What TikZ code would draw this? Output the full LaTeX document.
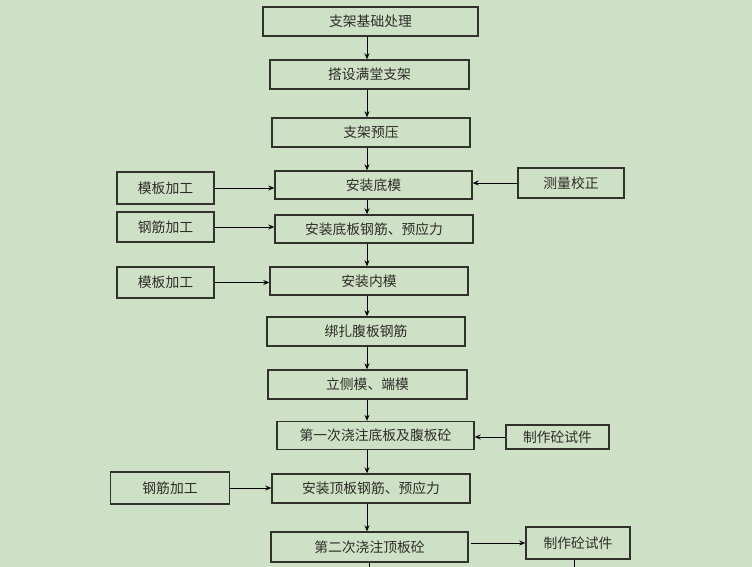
\documentclass[tikz,border=0pt]{standalone}
\usepackage{fontspec}
\newfontfamily\cjk{Noto Sans CJK SC}
\usetikzlibrary{arrows.meta}
\definecolor{bg}{RGB}{206,224,197}
\definecolor{bd}{RGB}{50,50,45}
\definecolor{tx}{RGB}{45,45,40}
\begin{document}
\begin{tikzpicture}[x=1pt,y=-1pt,
  box/.style={draw=bd,line width=1.4pt,text=tx,inner sep=0pt,
    font=\cjk\fontsize{13.8}{16}\selectfont},
  arr/.style={draw=black,line width=1pt,-{Stealth[length=6pt,width=5pt]}},
  ln/.style={draw=black,line width=1pt}]
\fill[bg] (0,0) rectangle (752,567);
\useasboundingbox (0,0) rectangle (752,567);
\node[box,minimum width=215pt,minimum height=29pt] (b1) at (370.5,21.5) {支架基础处理};
\node[box,minimum width=199pt,minimum height=29pt] (b2) at (369.5,74.5) {搭设满堂支架};
\node[box,minimum width=198pt,minimum height=29pt] (b3) at (371,132.5) {支架预压};
\node[box,minimum width=197pt,minimum height=28pt] (b4) at (373.5,185) {安装底模};
\node[box,minimum width=198pt,minimum height=28pt] (b5) at (374,229) {安装底板钢筋、预应力};
\node[box,minimum width=198pt,minimum height=28pt] (b6) at (369,281) {安装内模};
\node[box,minimum width=198pt,minimum height=29pt] (b7) at (366,331.5) {绑扎腹板钢筋};
\node[box,minimum width=199pt,minimum height=29pt] (b8) at (367.5,384.5) {立侧模、端模};
\node[box,minimum width=197pt,minimum height=28pt] (b9) at (375.5,435.5) {第一次浇注底板及腹板砼};
\node[box,minimum width=198pt,minimum height=29pt] (b10) at (371,488.5) {安装顶板钢筋、预应力};
\node[box,minimum width=197pt,minimum height=30pt] (b11) at (369.5,547) {第二次浇注顶板砼};
% side boxes
\node[box,minimum width=97pt,minimum height=32pt] (l1) at (165.5,188) {模板加工};
\node[box,minimum width=97pt,minimum height=30pt] (l2) at (165.5,227) {钢筋加工};
\node[box,minimum width=97pt,minimum height=31pt] (l3) at (165.5,282.5) {模板加工};
\node[box,minimum width=119pt,minimum height=32pt] (l4) at (170,488) {钢筋加工};
\node[box,minimum width=106pt,minimum height=30pt] (r1) at (571,183) {测量校正};
\node[box,minimum width=103pt,minimum height=24pt] (r2) at (557.5,437) {制作砼试件};
\node[box,minimum width=104pt,minimum height=32pt] (r3) at (578,543) {制作砼试件};
% vertical arrows
\draw[arr] (b1.south -| 367,0) -- (b2.north -| 367,0);
\draw[arr] (b2.south -| 367,0) -- (b3.north -| 367,0);
\draw[arr] (b3.south -| 367,0) -- (b4.north -| 367,0);
\draw[arr] (b4.south -| 367,0) -- (b5.north -| 367,0);
\draw[arr] (b5.south -| 367,0) -- (b6.north -| 367,0);
\draw[arr] (b6.south -| 367,0) -- (b7.north -| 367,0);
\draw[arr] (b7.south -| 367,0) -- (b8.north -| 367,0);
\draw[arr] (b8.south -| 367,0) -- (b9.north -| 367,0);
\draw[arr] (b9.south -| 367,0) -- (b10.north -| 367,0);
\draw[arr] (b10.south -| 367,0) -- (b11.north -| 367,0);
% side arrows
\draw[arr] (l1.east) -- (l1.east -| b4.west);
\draw[arr] (l2.east) -- (l2.east -| b5.west);
\draw[arr] (l3.east) -- (l3.east -| b6.west);
\draw[arr] (l4.east) -- (l4.east -| b10.west);
\draw[arr] (r1.west) -- (r1.west -| b4.east);
\draw[arr] (r2.west) -- (r2.west -| b9.east);
\draw[arr] ([xshift=2pt]b11.east |- r3.west) -- (r3.west);
% lines leaving the picture
\coordinate (e1) at (369.5,567);
\coordinate (e2) at (574,567);
\draw[ln] (b11.south -| e1) -- (e1);
\draw[ln] (r3.south -| e2) -- (e2);
\end{tikzpicture}
\end{document}
